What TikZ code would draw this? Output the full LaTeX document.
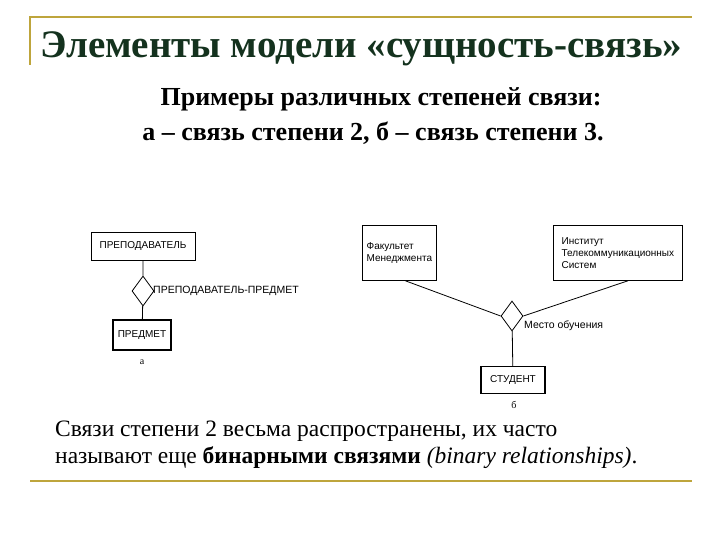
\documentclass[tikz,border=0pt]{standalone}
\usepackage{fontspec}
\setmainfont{Liberation Serif}
\newfontfamily\dsans{Liberation Sans}
\usetikzlibrary{shapes.geometric}
\definecolor{gold}{RGB}{190,165,60}
\definecolor{dgreen}{RGB}{20,50,30}
\tikzset{ent/.style={draw,line width=0.8pt,minimum height=28pt,inner sep=3pt,font=\dsans\fontsize{10}{12}\selectfont,align=left},
 rel/.style={draw,line width=0.8pt,diamond,minimum width=22pt,minimum height=30pt,inner sep=0pt},
 lab/.style={font=\dsans\fontsize{10.5}{12}\selectfont,anchor=west,inner sep=1pt}}
\begin{document}
\begin{tikzpicture}[x=1pt,y=-1pt]
\useasboundingbox (0,0) rectangle (720,540);
\draw[gold,line width=1.2pt] (30,65) -- (30,17) -- (692,17);
\draw[gold,line width=1.2pt] (30,481) -- (692,481);
\node[text=dgreen,font=\bfseries\fontsize{39}{40}\selectfont,anchor=base west,inner sep=0] (title) at (40,58) {Элементы модели «сущность-связь»};
\node[font=\bfseries\fontsize{26}{28}\selectfont,anchor=base,inner sep=0] (s1) at (381,106) {Примеры различных степеней связи:};
\node[font=\bfseries\fontsize{26}{28}\selectfont,anchor=base,inner sep=0] (s2) at (373,141) {а – связь степени 2, б – связь степени 3.};
% left
\node[ent,minimum width=104pt,minimum height=28pt] (p) at (143,246) {ПРЕПОДАВАТЕЛЬ};
\node[rel] (r1) at (143,291) {};
\node[lab] (l1) at (152,291) {ПРЕПОДАВАТЕЛЬ-ПРЕДМЕТ};
\node[ent,line width=1.4pt,minimum width=58pt,minimum height=30pt] (pr) at (142,335) {ПРЕДМЕТ};
\node[font=\fontsize{10}{10}\selectfont] (a) at (142,362) {а};
\draw[line width=0.8pt] (p) -- (r1) -- (pr);
% right
\node[ent,minimum width=74pt,minimum height=55pt,anchor=north west] (f) at (362,225) {Факультет\\Менеджмента};
\node[ent,minimum width=129pt,minimum height=55pt,anchor=north west,inner sep=2pt] (i) at (553,225) {Институт\\Телекоммуникационных\\Систем};
\node[rel] (r2) at (512,316) {};
\node[lab] (l2) at (523,326) {Место обучения};
\node[ent,line width=1.4pt,minimum width=64pt,minimum height=27pt] (st) at (513,380) {СТУДЕНТ};
\node[font=\fontsize{10}{10}\selectfont] (b) at (514,405) {б};
\coordinate (fa) at ([xshift=6pt]f.south);
\coordinate (ia) at ([xshift=10pt]i.south);
\draw[line width=0.8pt] (fa) -- (r2.west);
\draw[line width=0.8pt] (ia) -- (r2.east);
\draw[line width=0.8pt] (r2) -- (st);
% bottom text
\node[font=\fontsize{23.5}{27}\selectfont,align=left,anchor=north west,inner sep=0] (t) at (55,421) {Связи степени 2 весьма распространены, их часто\\называют еще \textbf{бинарными связями} \textit{(binary relationships)}.};
\end{tikzpicture}
\end{document}
